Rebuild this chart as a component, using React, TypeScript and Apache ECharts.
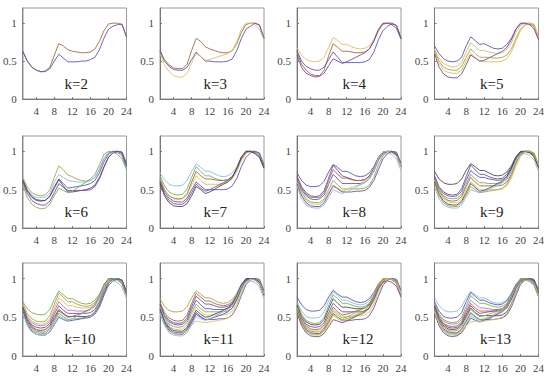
import React, { useEffect, useRef } from 'react';
import * as echarts from 'echarts';

const hours = [1, 2, 3, 4, 5, 6, 7, 8, 9, 10, 11, 12, 13, 14, 15, 16, 17, 18, 19, 20, 21, 22, 23, 24];
const xTicks = [4, 8, 12, 16, 20, 24];
const yTicks = [0, 0.5, 1];
const panelLabels = ['k=2', 'k=3', 'k=4', 'k=5', 'k=6', 'k=7', 'k=8', 'k=9', 'k=10', 'k=11', 'k=12', 'k=13'];

const BLUE = '#5858b4';
const BROWN = '#a46a42';
const YELLOW = '#dcc060';
const PURPLE = '#7a4a9c';
const GREEN = '#7cb050';
const LBLUE = '#88bce6';
const DARK = '#4a4a4a';
const OLIVE = '#a8a44a';
const MAGENTA = '#c070c0';

const k2 = [
  [0.63, 0.50, 0.42, 0.38, 0.36, 0.37, 0.42, 0.58, 0.73, 0.70, 0.65, 0.63, 0.62, 0.61, 0.61, 0.62, 0.66, 0.76, 0.90, 0.99, 1.0, 1.0, 0.98, 0.82],
  [0.63, 0.50, 0.42, 0.38, 0.36, 0.36, 0.40, 0.50, 0.59, 0.54, 0.49, 0.49, 0.49, 0.50, 0.50, 0.52, 0.55, 0.65, 0.80, 0.92, 0.96, 0.98, 0.99, 0.82],
];
const k2Colors = [BROWN, BLUE];

const k3 = [
  [0.64, 0.52, 0.45, 0.41, 0.40, 0.40, 0.46, 0.64, 0.80, 0.76, 0.69, 0.66, 0.64, 0.62, 0.61, 0.61, 0.64, 0.73, 0.88, 0.98, 1.0, 1.0, 0.98, 0.80],
  [0.63, 0.50, 0.43, 0.39, 0.38, 0.38, 0.42, 0.52, 0.62, 0.56, 0.50, 0.50, 0.49, 0.49, 0.49, 0.50, 0.53, 0.64, 0.80, 0.92, 0.96, 1.0, 0.97, 0.80],
  [0.60, 0.45, 0.36, 0.31, 0.29, 0.29, 0.34, 0.48, 0.60, 0.56, 0.51, 0.52, 0.54, 0.56, 0.58, 0.60, 0.64, 0.76, 0.92, 1.0, 1.0, 0.98, 0.92, 0.78],
];
const k3Colors = [BROWN, BLUE, YELLOW];

const k4 = [
  [0.68, 0.58, 0.52, 0.50, 0.49, 0.50, 0.55, 0.68, 0.81, 0.77, 0.72, 0.72, 0.69, 0.67, 0.66, 0.67, 0.70, 0.78, 0.90, 0.98, 1.0, 1.0, 0.97, 0.82],
  [0.62, 0.46, 0.38, 0.33, 0.31, 0.31, 0.38, 0.57, 0.73, 0.68, 0.63, 0.63, 0.62, 0.61, 0.61, 0.62, 0.66, 0.76, 0.90, 0.99, 1.0, 1.0, 0.97, 0.80],
  [0.64, 0.50, 0.43, 0.40, 0.38, 0.38, 0.42, 0.52, 0.62, 0.55, 0.48, 0.48, 0.48, 0.48, 0.48, 0.49, 0.52, 0.62, 0.78, 0.90, 0.96, 0.99, 0.97, 0.80],
  [0.58, 0.42, 0.34, 0.31, 0.29, 0.30, 0.34, 0.44, 0.53, 0.50, 0.47, 0.49, 0.52, 0.55, 0.58, 0.61, 0.66, 0.77, 0.92, 1.0, 1.0, 0.98, 0.93, 0.79],
];
const k4Colors = [YELLOW, BROWN, BLUE, PURPLE];

const k5 = [
  [0.70, 0.60, 0.53, 0.50, 0.49, 0.50, 0.55, 0.70, 0.82, 0.77, 0.72, 0.73, 0.70, 0.67, 0.66, 0.67, 0.72, 0.80, 0.92, 0.99, 1.0, 0.99, 0.96, 0.80],
  [0.66, 0.54, 0.47, 0.44, 0.42, 0.43, 0.48, 0.62, 0.74, 0.69, 0.64, 0.64, 0.62, 0.61, 0.60, 0.61, 0.65, 0.74, 0.88, 0.97, 1.0, 1.0, 0.96, 0.80],
  [0.64, 0.50, 0.42, 0.39, 0.38, 0.38, 0.43, 0.55, 0.66, 0.60, 0.55, 0.55, 0.55, 0.54, 0.54, 0.55, 0.58, 0.66, 0.80, 0.92, 0.98, 1.0, 0.98, 0.81],
  [0.62, 0.47, 0.38, 0.35, 0.34, 0.34, 0.38, 0.50, 0.60, 0.55, 0.50, 0.49, 0.49, 0.49, 0.49, 0.50, 0.53, 0.62, 0.76, 0.90, 0.97, 1.0, 0.99, 0.82],
  [0.60, 0.42, 0.33, 0.29, 0.28, 0.28, 0.33, 0.45, 0.58, 0.54, 0.50, 0.51, 0.54, 0.57, 0.60, 0.63, 0.68, 0.78, 0.92, 1.0, 1.0, 0.98, 0.93, 0.78],
];
const k5Colors = [BLUE, YELLOW, OLIVE, YELLOW, PURPLE];

const k6 = [
  [0.66, 0.54, 0.46, 0.43, 0.42, 0.43, 0.50, 0.66, 0.81, 0.76, 0.69, 0.67, 0.64, 0.62, 0.61, 0.62, 0.66, 0.76, 0.90, 0.98, 1.0, 0.99, 0.95, 0.78],
  [0.64, 0.50, 0.43, 0.40, 0.40, 0.40, 0.46, 0.60, 0.70, 0.66, 0.62, 0.61, 0.60, 0.60, 0.60, 0.62, 0.66, 0.77, 0.91, 0.99, 1.0, 0.98, 0.94, 0.78],
  [0.62, 0.48, 0.40, 0.36, 0.35, 0.36, 0.42, 0.54, 0.64, 0.58, 0.52, 0.53, 0.54, 0.55, 0.56, 0.58, 0.62, 0.72, 0.86, 0.96, 1.0, 1.0, 0.97, 0.80],
  [0.63, 0.49, 0.41, 0.37, 0.36, 0.36, 0.41, 0.52, 0.63, 0.55, 0.47, 0.47, 0.48, 0.49, 0.50, 0.52, 0.56, 0.66, 0.80, 0.92, 0.98, 1.0, 0.99, 0.83],
  [0.60, 0.45, 0.36, 0.32, 0.30, 0.30, 0.35, 0.46, 0.58, 0.53, 0.49, 0.49, 0.49, 0.49, 0.49, 0.50, 0.54, 0.64, 0.79, 0.92, 0.98, 1.0, 0.99, 0.84],
  [0.56, 0.40, 0.31, 0.27, 0.25, 0.26, 0.31, 0.42, 0.52, 0.49, 0.46, 0.48, 0.52, 0.56, 0.60, 0.64, 0.70, 0.82, 0.96, 1.0, 0.99, 0.96, 0.90, 0.76],
];
const k6Colors = [OLIVE, LBLUE, BLUE, DARK, PURPLE, GREEN];

const k7 = [
  [0.72, 0.63, 0.57, 0.55, 0.55, 0.56, 0.62, 0.74, 0.84, 0.79, 0.74, 0.74, 0.71, 0.68, 0.67, 0.68, 0.72, 0.80, 0.92, 0.99, 1.0, 0.99, 0.95, 0.80],
  [0.68, 0.55, 0.47, 0.44, 0.43, 0.44, 0.51, 0.66, 0.80, 0.74, 0.68, 0.68, 0.65, 0.63, 0.62, 0.63, 0.67, 0.76, 0.90, 0.98, 1.0, 1.0, 0.96, 0.80],
  [0.65, 0.50, 0.42, 0.39, 0.38, 0.39, 0.45, 0.60, 0.74, 0.68, 0.64, 0.64, 0.63, 0.62, 0.62, 0.63, 0.67, 0.76, 0.90, 0.98, 1.0, 1.0, 0.97, 0.80],
  [0.64, 0.50, 0.42, 0.38, 0.37, 0.38, 0.43, 0.56, 0.68, 0.62, 0.57, 0.57, 0.57, 0.57, 0.58, 0.60, 0.64, 0.74, 0.88, 0.97, 1.0, 1.0, 0.97, 0.80],
  [0.62, 0.47, 0.39, 0.35, 0.34, 0.34, 0.39, 0.50, 0.60, 0.55, 0.50, 0.50, 0.50, 0.50, 0.50, 0.51, 0.55, 0.65, 0.80, 0.92, 0.98, 1.0, 0.98, 0.82],
  [0.60, 0.44, 0.36, 0.32, 0.31, 0.31, 0.36, 0.46, 0.57, 0.52, 0.48, 0.50, 0.53, 0.56, 0.59, 0.62, 0.67, 0.78, 0.92, 1.0, 1.0, 0.98, 0.93, 0.78],
  [0.58, 0.42, 0.33, 0.29, 0.28, 0.28, 0.32, 0.42, 0.54, 0.50, 0.45, 0.47, 0.50, 0.54, 0.57, 0.60, 0.66, 0.78, 0.93, 1.0, 1.0, 0.97, 0.92, 0.78],
];
const k7Colors = [LBLUE, GREEN, BROWN, YELLOW, BLUE, PURPLE, DARK];

const k8 = [
  [0.72, 0.62, 0.56, 0.54, 0.54, 0.55, 0.61, 0.73, 0.83, 0.79, 0.74, 0.74, 0.71, 0.68, 0.67, 0.68, 0.72, 0.80, 0.92, 0.99, 1.0, 0.99, 0.95, 0.80],
  [0.68, 0.54, 0.46, 0.42, 0.41, 0.42, 0.49, 0.65, 0.82, 0.75, 0.68, 0.66, 0.64, 0.62, 0.62, 0.63, 0.68, 0.78, 0.92, 0.99, 1.0, 0.99, 0.96, 0.80],
  [0.66, 0.52, 0.44, 0.40, 0.40, 0.40, 0.46, 0.62, 0.76, 0.70, 0.65, 0.65, 0.63, 0.62, 0.62, 0.63, 0.67, 0.76, 0.90, 0.98, 1.0, 1.0, 0.97, 0.80],
  [0.64, 0.50, 0.42, 0.38, 0.37, 0.38, 0.43, 0.57, 0.70, 0.64, 0.58, 0.58, 0.58, 0.58, 0.58, 0.60, 0.64, 0.74, 0.88, 0.97, 1.0, 1.0, 0.97, 0.80],
  [0.62, 0.47, 0.38, 0.34, 0.33, 0.33, 0.38, 0.50, 0.62, 0.56, 0.51, 0.51, 0.51, 0.51, 0.51, 0.52, 0.56, 0.66, 0.82, 0.94, 0.99, 1.0, 0.98, 0.81],
  [0.60, 0.44, 0.36, 0.32, 0.31, 0.31, 0.36, 0.46, 0.56, 0.52, 0.48, 0.50, 0.53, 0.55, 0.57, 0.60, 0.65, 0.76, 0.91, 0.99, 1.0, 0.98, 0.94, 0.79],
  [0.58, 0.42, 0.33, 0.29, 0.28, 0.28, 0.33, 0.44, 0.55, 0.51, 0.47, 0.47, 0.47, 0.48, 0.48, 0.49, 0.53, 0.62, 0.76, 0.90, 0.97, 1.0, 0.99, 0.85],
  [0.55, 0.38, 0.30, 0.27, 0.26, 0.26, 0.30, 0.40, 0.50, 0.47, 0.45, 0.47, 0.50, 0.53, 0.56, 0.59, 0.64, 0.74, 0.88, 0.96, 0.98, 0.96, 0.90, 0.75],
];
const k8Colors = [BLUE, PURPLE, BROWN, BLUE, GREEN, YELLOW, PURPLE, LBLUE];

const k9 = [
  [0.74, 0.64, 0.59, 0.57, 0.57, 0.58, 0.64, 0.75, 0.84, 0.80, 0.75, 0.75, 0.72, 0.69, 0.68, 0.69, 0.73, 0.81, 0.93, 0.99, 1.0, 0.99, 0.95, 0.80],
  [0.68, 0.54, 0.47, 0.44, 0.43, 0.44, 0.51, 0.67, 0.82, 0.76, 0.70, 0.70, 0.67, 0.65, 0.64, 0.65, 0.70, 0.79, 0.92, 0.99, 1.0, 0.99, 0.96, 0.80],
  [0.66, 0.52, 0.45, 0.42, 0.41, 0.42, 0.48, 0.62, 0.75, 0.70, 0.66, 0.66, 0.64, 0.63, 0.62, 0.63, 0.67, 0.77, 0.90, 0.98, 1.0, 1.0, 0.97, 0.80],
  [0.64, 0.50, 0.42, 0.39, 0.38, 0.39, 0.44, 0.57, 0.70, 0.64, 0.59, 0.59, 0.58, 0.58, 0.58, 0.60, 0.64, 0.74, 0.88, 0.97, 1.0, 1.0, 0.97, 0.80],
  [0.63, 0.48, 0.40, 0.36, 0.35, 0.36, 0.41, 0.54, 0.66, 0.60, 0.55, 0.55, 0.55, 0.55, 0.55, 0.56, 0.60, 0.70, 0.85, 0.96, 1.0, 1.0, 0.98, 0.81],
  [0.62, 0.46, 0.38, 0.34, 0.33, 0.33, 0.38, 0.50, 0.60, 0.55, 0.50, 0.50, 0.50, 0.50, 0.50, 0.51, 0.55, 0.65, 0.80, 0.93, 0.99, 1.0, 0.98, 0.82],
  [0.60, 0.44, 0.35, 0.31, 0.30, 0.30, 0.35, 0.46, 0.58, 0.53, 0.48, 0.49, 0.52, 0.55, 0.58, 0.61, 0.67, 0.78, 0.92, 1.0, 1.0, 0.98, 0.93, 0.78],
  [0.58, 0.42, 0.33, 0.29, 0.28, 0.28, 0.33, 0.43, 0.54, 0.50, 0.46, 0.47, 0.48, 0.49, 0.50, 0.52, 0.57, 0.68, 0.84, 0.96, 1.0, 1.0, 0.97, 0.82],
  [0.54, 0.38, 0.30, 0.27, 0.26, 0.26, 0.30, 0.40, 0.50, 0.48, 0.46, 0.48, 0.50, 0.53, 0.56, 0.59, 0.64, 0.74, 0.88, 0.95, 0.97, 0.95, 0.89, 0.74],
];
const k9Colors = [DARK, PURPLE, BLUE, GREEN, BROWN, YELLOW, DARK, OLIVE, LBLUE];

const k10 = [
  [0.70, 0.61, 0.56, 0.54, 0.53, 0.54, 0.60, 0.73, 0.84, 0.79, 0.74, 0.74, 0.71, 0.68, 0.67, 0.68, 0.72, 0.80, 0.92, 0.99, 1.0, 0.99, 0.95, 0.80],
  [0.68, 0.55, 0.48, 0.45, 0.44, 0.45, 0.52, 0.67, 0.81, 0.76, 0.70, 0.70, 0.67, 0.65, 0.64, 0.65, 0.69, 0.78, 0.91, 0.99, 1.0, 0.99, 0.96, 0.80],
  [0.66, 0.52, 0.45, 0.42, 0.41, 0.42, 0.48, 0.62, 0.75, 0.70, 0.65, 0.65, 0.63, 0.62, 0.62, 0.63, 0.67, 0.77, 0.90, 0.98, 1.0, 1.0, 0.97, 0.80],
  [0.65, 0.50, 0.43, 0.40, 0.39, 0.40, 0.45, 0.58, 0.70, 0.64, 0.59, 0.59, 0.58, 0.58, 0.58, 0.60, 0.64, 0.74, 0.88, 0.97, 1.0, 1.0, 0.97, 0.80],
  [0.63, 0.48, 0.40, 0.37, 0.36, 0.37, 0.42, 0.54, 0.65, 0.59, 0.55, 0.55, 0.55, 0.55, 0.55, 0.56, 0.60, 0.70, 0.85, 0.96, 1.0, 1.0, 0.98, 0.81],
  [0.62, 0.46, 0.38, 0.34, 0.33, 0.34, 0.39, 0.50, 0.60, 0.55, 0.51, 0.51, 0.51, 0.51, 0.51, 0.52, 0.56, 0.66, 0.81, 0.94, 0.99, 1.0, 0.98, 0.82],
  [0.60, 0.44, 0.36, 0.32, 0.31, 0.31, 0.36, 0.47, 0.58, 0.54, 0.50, 0.51, 0.53, 0.55, 0.58, 0.61, 0.66, 0.77, 0.92, 1.0, 1.0, 0.98, 0.93, 0.78],
  [0.59, 0.43, 0.34, 0.30, 0.29, 0.29, 0.34, 0.44, 0.55, 0.51, 0.47, 0.48, 0.48, 0.49, 0.50, 0.52, 0.57, 0.68, 0.84, 0.96, 1.0, 1.0, 0.97, 0.82],
  [0.58, 0.41, 0.32, 0.28, 0.27, 0.27, 0.31, 0.40, 0.50, 0.47, 0.45, 0.46, 0.47, 0.48, 0.49, 0.50, 0.54, 0.63, 0.78, 0.91, 0.97, 0.99, 0.98, 0.84],
  [0.55, 0.39, 0.31, 0.28, 0.27, 0.27, 0.31, 0.41, 0.52, 0.49, 0.46, 0.48, 0.51, 0.54, 0.57, 0.60, 0.65, 0.76, 0.90, 0.96, 0.97, 0.95, 0.89, 0.74],
];
const k10Colors = [GREEN, OLIVE, YELLOW, MAGENTA, PURPLE, DARK, BROWN, GREEN, BLUE, LBLUE];

const k11 = [
  [0.74, 0.64, 0.59, 0.57, 0.57, 0.58, 0.64, 0.75, 0.84, 0.80, 0.75, 0.75, 0.72, 0.69, 0.68, 0.69, 0.73, 0.81, 0.93, 0.99, 1.0, 0.99, 0.95, 0.80],
  [0.69, 0.56, 0.49, 0.46, 0.45, 0.46, 0.53, 0.68, 0.81, 0.76, 0.71, 0.71, 0.68, 0.66, 0.65, 0.66, 0.70, 0.79, 0.92, 0.99, 1.0, 0.99, 0.96, 0.80],
  [0.67, 0.53, 0.46, 0.43, 0.42, 0.43, 0.49, 0.64, 0.77, 0.72, 0.67, 0.67, 0.65, 0.63, 0.63, 0.64, 0.68, 0.77, 0.90, 0.98, 1.0, 1.0, 0.97, 0.80],
  [0.66, 0.51, 0.44, 0.41, 0.40, 0.41, 0.46, 0.60, 0.72, 0.66, 0.61, 0.61, 0.60, 0.60, 0.60, 0.61, 0.65, 0.75, 0.89, 0.97, 1.0, 1.0, 0.97, 0.80],
  [0.64, 0.49, 0.41, 0.38, 0.37, 0.38, 0.43, 0.56, 0.67, 0.61, 0.57, 0.57, 0.57, 0.57, 0.57, 0.58, 0.62, 0.72, 0.86, 0.96, 1.0, 1.0, 0.97, 0.80],
  [0.62, 0.47, 0.39, 0.35, 0.34, 0.35, 0.40, 0.52, 0.63, 0.57, 0.53, 0.53, 0.53, 0.53, 0.53, 0.54, 0.58, 0.68, 0.83, 0.95, 0.99, 1.0, 0.98, 0.81],
  [0.61, 0.45, 0.37, 0.33, 0.32, 0.32, 0.37, 0.48, 0.59, 0.54, 0.50, 0.51, 0.54, 0.56, 0.59, 0.62, 0.67, 0.78, 0.92, 1.0, 1.0, 0.98, 0.93, 0.78],
  [0.60, 0.44, 0.35, 0.31, 0.30, 0.30, 0.35, 0.45, 0.56, 0.51, 0.47, 0.47, 0.47, 0.48, 0.48, 0.49, 0.53, 0.63, 0.78, 0.92, 0.98, 1.0, 0.99, 0.84],
  [0.58, 0.42, 0.33, 0.29, 0.28, 0.28, 0.33, 0.43, 0.54, 0.50, 0.47, 0.48, 0.50, 0.52, 0.54, 0.57, 0.62, 0.73, 0.88, 0.98, 1.0, 0.99, 0.95, 0.80],
  [0.56, 0.40, 0.32, 0.29, 0.28, 0.29, 0.33, 0.40, 0.45, 0.44, 0.43, 0.44, 0.45, 0.46, 0.47, 0.49, 0.54, 0.65, 0.82, 0.95, 0.99, 0.98, 0.94, 0.80],
  [0.55, 0.39, 0.30, 0.27, 0.26, 0.26, 0.30, 0.40, 0.51, 0.48, 0.46, 0.48, 0.51, 0.54, 0.57, 0.60, 0.65, 0.76, 0.90, 0.96, 0.97, 0.95, 0.89, 0.74],
];
const k11Colors = [OLIVE, BROWN, PURPLE, BLUE, GREEN, YELLOW, DARK, BLUE, PURPLE, YELLOW, LBLUE];

const k12 = [
  [0.76, 0.66, 0.60, 0.58, 0.58, 0.59, 0.65, 0.76, 0.85, 0.80, 0.76, 0.76, 0.73, 0.70, 0.69, 0.70, 0.74, 0.82, 0.93, 0.99, 1.0, 0.99, 0.95, 0.80],
  [0.70, 0.58, 0.51, 0.49, 0.49, 0.50, 0.57, 0.71, 0.83, 0.78, 0.72, 0.72, 0.69, 0.67, 0.66, 0.67, 0.71, 0.80, 0.92, 0.99, 1.0, 0.99, 0.96, 0.80],
  [0.68, 0.54, 0.46, 0.43, 0.42, 0.43, 0.50, 0.65, 0.79, 0.74, 0.68, 0.68, 0.66, 0.64, 0.63, 0.64, 0.68, 0.78, 0.91, 0.99, 1.0, 1.0, 0.97, 0.80],
  [0.66, 0.51, 0.44, 0.41, 0.40, 0.41, 0.47, 0.61, 0.74, 0.68, 0.63, 0.63, 0.62, 0.61, 0.61, 0.62, 0.66, 0.76, 0.89, 0.97, 1.0, 1.0, 0.97, 0.80],
  [0.64, 0.49, 0.41, 0.38, 0.37, 0.38, 0.43, 0.56, 0.68, 0.62, 0.57, 0.57, 0.57, 0.57, 0.57, 0.58, 0.62, 0.72, 0.86, 0.96, 1.0, 1.0, 0.97, 0.80],
  [0.63, 0.47, 0.39, 0.35, 0.34, 0.35, 0.40, 0.52, 0.63, 0.57, 0.53, 0.54, 0.56, 0.58, 0.60, 0.62, 0.67, 0.77, 0.91, 0.99, 1.0, 0.99, 0.95, 0.79],
  [0.62, 0.46, 0.37, 0.33, 0.32, 0.33, 0.38, 0.49, 0.60, 0.55, 0.51, 0.51, 0.51, 0.52, 0.52, 0.53, 0.57, 0.67, 0.82, 0.94, 0.99, 1.0, 0.98, 0.82],
  [0.61, 0.45, 0.36, 0.32, 0.31, 0.31, 0.36, 0.47, 0.58, 0.53, 0.49, 0.50, 0.53, 0.56, 0.59, 0.62, 0.67, 0.78, 0.92, 1.0, 1.0, 0.98, 0.93, 0.78],
  [0.60, 0.43, 0.34, 0.30, 0.29, 0.29, 0.34, 0.44, 0.55, 0.50, 0.46, 0.46, 0.46, 0.47, 0.47, 0.48, 0.52, 0.62, 0.77, 0.91, 0.98, 1.0, 0.99, 0.85],
  [0.59, 0.42, 0.33, 0.29, 0.28, 0.28, 0.33, 0.43, 0.54, 0.50, 0.47, 0.48, 0.50, 0.53, 0.56, 0.59, 0.64, 0.75, 0.89, 0.98, 1.0, 0.99, 0.95, 0.80],
  [0.57, 0.41, 0.32, 0.28, 0.27, 0.27, 0.32, 0.41, 0.52, 0.48, 0.45, 0.47, 0.49, 0.51, 0.53, 0.56, 0.61, 0.72, 0.87, 0.97, 1.0, 0.99, 0.95, 0.80],
  [0.56, 0.39, 0.30, 0.26, 0.25, 0.25, 0.29, 0.38, 0.47, 0.45, 0.43, 0.45, 0.48, 0.51, 0.54, 0.57, 0.62, 0.73, 0.87, 0.95, 0.97, 0.95, 0.90, 0.76],
];
const k12Colors = [BLUE, LBLUE, GREEN, DARK, PURPLE, BROWN, YELLOW, OLIVE, BLUE, GREEN, YELLOW, PURPLE];

const k13 = [
  [0.75, 0.65, 0.59, 0.57, 0.57, 0.58, 0.64, 0.75, 0.83, 0.79, 0.75, 0.75, 0.72, 0.69, 0.68, 0.69, 0.73, 0.81, 0.93, 0.99, 1.0, 0.99, 0.95, 0.80],
  [0.70, 0.58, 0.51, 0.49, 0.49, 0.50, 0.56, 0.70, 0.82, 0.77, 0.72, 0.72, 0.69, 0.67, 0.66, 0.67, 0.71, 0.80, 0.92, 0.99, 1.0, 0.99, 0.96, 0.80],
  [0.68, 0.54, 0.47, 0.44, 0.43, 0.44, 0.50, 0.64, 0.78, 0.73, 0.68, 0.68, 0.66, 0.64, 0.63, 0.64, 0.68, 0.78, 0.91, 0.99, 1.0, 1.0, 0.97, 0.80],
  [0.67, 0.52, 0.45, 0.42, 0.41, 0.42, 0.47, 0.60, 0.72, 0.67, 0.62, 0.62, 0.61, 0.60, 0.60, 0.61, 0.65, 0.75, 0.89, 0.97, 1.0, 1.0, 0.97, 0.80],
  [0.65, 0.50, 0.42, 0.39, 0.38, 0.39, 0.44, 0.57, 0.68, 0.62, 0.58, 0.58, 0.58, 0.58, 0.58, 0.59, 0.63, 0.73, 0.87, 0.97, 1.0, 1.0, 0.97, 0.80],
  [0.64, 0.49, 0.41, 0.37, 0.36, 0.37, 0.42, 0.54, 0.65, 0.59, 0.55, 0.56, 0.57, 0.58, 0.59, 0.61, 0.66, 0.76, 0.90, 0.99, 1.0, 0.99, 0.95, 0.79],
  [0.63, 0.47, 0.39, 0.35, 0.34, 0.35, 0.40, 0.51, 0.62, 0.56, 0.52, 0.52, 0.52, 0.52, 0.52, 0.53, 0.57, 0.67, 0.82, 0.94, 0.99, 1.0, 0.98, 0.82],
  [0.62, 0.46, 0.37, 0.33, 0.32, 0.33, 0.38, 0.49, 0.60, 0.55, 0.51, 0.52, 0.54, 0.56, 0.58, 0.61, 0.66, 0.77, 0.91, 1.0, 1.0, 0.98, 0.93, 0.78],
  [0.61, 0.44, 0.35, 0.31, 0.30, 0.30, 0.35, 0.45, 0.56, 0.51, 0.47, 0.47, 0.47, 0.47, 0.48, 0.49, 0.53, 0.63, 0.78, 0.92, 0.98, 1.0, 0.99, 0.86],
  [0.60, 0.43, 0.34, 0.30, 0.29, 0.29, 0.34, 0.44, 0.55, 0.50, 0.47, 0.48, 0.50, 0.53, 0.56, 0.59, 0.64, 0.75, 0.89, 0.98, 1.0, 0.99, 0.95, 0.80],
  [0.58, 0.41, 0.32, 0.28, 0.27, 0.27, 0.31, 0.41, 0.52, 0.48, 0.45, 0.47, 0.49, 0.52, 0.55, 0.58, 0.63, 0.74, 0.88, 0.96, 0.98, 0.96, 0.91, 0.76],
  [0.56, 0.39, 0.30, 0.26, 0.25, 0.26, 0.30, 0.39, 0.49, 0.46, 0.44, 0.46, 0.48, 0.51, 0.54, 0.57, 0.62, 0.73, 0.87, 0.96, 0.98, 0.97, 0.92, 0.77],
  [0.57, 0.42, 0.33, 0.29, 0.28, 0.28, 0.32, 0.39, 0.44, 0.45, 0.44, 0.45, 0.46, 0.47, 0.48, 0.50, 0.55, 0.66, 0.82, 0.94, 0.98, 0.97, 0.93, 0.78],
];
const k13Colors = [LBLUE, BLUE, GREEN, MAGENTA, BROWN, PURPLE, DARK, OLIVE, BLUE, GREEN, LBLUE, PURPLE, YELLOW];

const panels = [k2, k3, k4, k5, k6, k7, k8, k9, k10, k11, k12, k13];
const panelColors = [k2Colors, k3Colors, k4Colors, k5Colors, k6Colors, k7Colors, k8Colors, k9Colors, k10Colors, k11Colors, k12Colors, k13Colors];

const COL_LEFT = [22.5, 160, 297, 434.5];
const COL_W = 104;
const ROW_TOP = [8, 136, 263];
const ROW_H = [91, 92, 93];
const LABEL_DX = [42, 43.5, 45.5, 45.5];
const LABEL_DY = 77;
const FONT = "'Liberation Serif', 'DejaVu Serif', serif";

export default function App() {
  const ref = useRef<HTMLDivElement>(null);

  useEffect(() => {
    if (!ref.current) return;
    const chart = echarts.init(ref.current, null, { renderer: 'svg' });
    const grid: any[] = [];
    const xAxis: any[] = [];
    const yAxis: any[] = [];
    const series: any[] = [];
    const graphic: any[] = [];

    panels.forEach((lines, p) => {
      const col = p % 4;
      const row = Math.floor(p / 4);
      grid.push({
        left: COL_LEFT[col],
        top: ROW_TOP[row],
        width: COL_W,
        height: ROW_H[row],
        show: true,
        borderColor: '#9a9a9a',
        borderWidth: 1,
        backgroundColor: 'transparent',
      });
      xAxis.push({
        type: 'value',
        gridIndex: p,
        min: 1,
        max: 24,
        axisLine: { show: true, onZero: false, lineStyle: { color: '#777', width: 1 } },
        axisTick: { show: true, inside: true, length: 2, customValues: xTicks, lineStyle: { color: '#777' } },
        axisLabel: { customValues: xTicks, color: '#444', fontFamily: FONT, fontSize: 11, margin: 6 },
        splitLine: { show: false },
      });
      yAxis.push({
        type: 'value',
        gridIndex: p,
        min: 0,
        max: 1.2,
        axisLine: { show: true, onZero: false, lineStyle: { color: '#777', width: 1 } },
        axisTick: { show: true, inside: true, length: 2, customValues: yTicks, lineStyle: { color: '#777' } },
        axisLabel: { customValues: yTicks, color: '#444', fontFamily: FONT, fontSize: 11, margin: 6 },
        splitLine: { show: false },
      });
      lines.forEach((vals, i) => {
        series.push({
          type: 'line',
          xAxisIndex: p,
          yAxisIndex: p,
          data: vals.map((v, j) => [hours[j], v]),
          symbol: 'none',
          showSymbol: false,
          silent: true,
          lineStyle: { width: 0.9, color: panelColors[p][i] },
        });
      });
      graphic.push({
        type: 'text',
        left: COL_LEFT[col] + LABEL_DX[col],
        top: ROW_TOP[row] + LABEL_DY - 9,
        style: { text: panelLabels[p], font: `15px ${FONT}`, fill: '#222' },
      });
    });

    chart.setOption({
      animation: false,
      backgroundColor: '#ffffff',
      grid,
      xAxis,
      yAxis,
      series,
      graphic,
    });
    return () => chart.dispose();
  }, []);

  return <div ref={ref} style={{ width: 550, height: 377, position: 'absolute', left: 0, top: 0 }} />;
}
